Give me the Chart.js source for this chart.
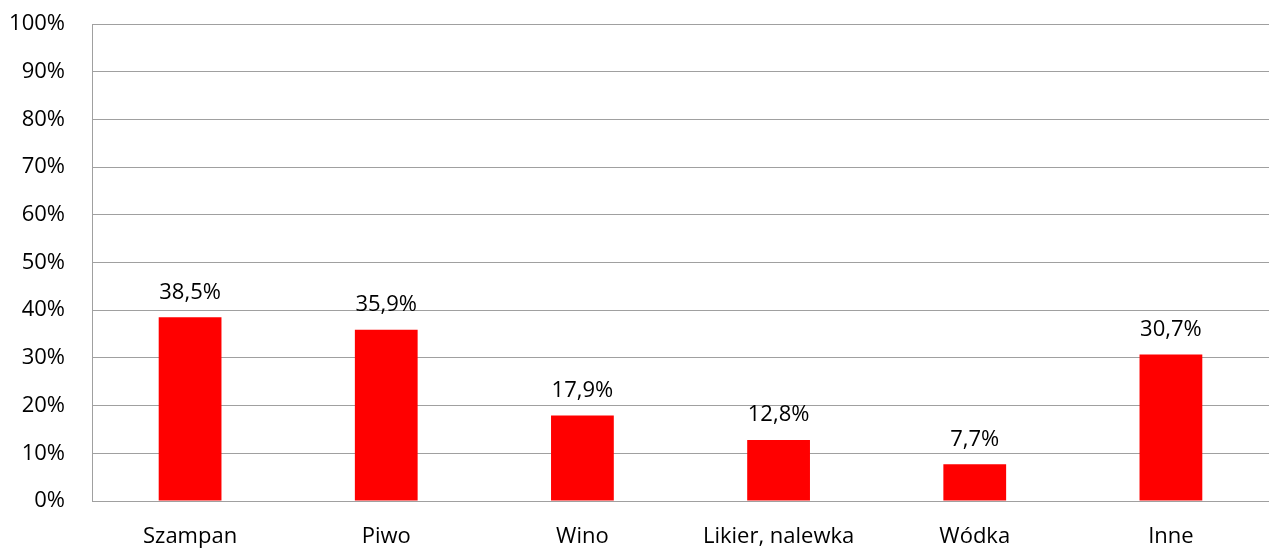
<!DOCTYPE html>
<html>
<head>
<meta charset="utf-8">
<script src="https://cdn.jsdelivr.net/npm/chart.js@4"></script>
<style>
  html, body { margin: 0; padding: 0; background: #fff; }
  #wrap { width: 1269px; height: 549px; position: relative; }
</style>
</head>
<body>
<div id="wrap"><canvas id="myChart"></canvas></div>
<script>
var categories = ['Szampan', 'Piwo', 'Wino', 'Likier, nalewka', 'Wódka', 'Inne'];
var shares = [38.5, 35.9, 17.9, 12.8, 7.7, 30.7];
var yTicks = [0, 10, 20, 30, 40, 50, 60, 70, 80, 90, 100];

var fontFamily = '"Open Sans", sans-serif';

function pct(v) {
  return v.toFixed(1).replace('.', ',') + '%';
}

// draws the value above each bar
var valueLabels = {
  id: 'valueLabels',
  afterDatasetsDraw: function(chart) {
    var ctx = chart.ctx;
    var meta = chart.getDatasetMeta(0);
    ctx.save();
    ctx.font = '22px ' + fontFamily;
    ctx.fillStyle = '#000';
    ctx.textAlign = 'center';
    ctx.textBaseline = 'middle';
    meta.data.forEach(function(bar, i) {
      ctx.fillText(pct(shares[i]), bar.x, bar.y - 25);
    });
    ctx.restore();
  }
};

function chart1() {
  var ctx = document.getElementById('myChart');

  new Chart(ctx, {
    type: 'bar',
    data: {
      labels: categories,
      datasets: [{
        data: shares,
        backgroundColor: '#ff0000',
        barPercentage: 0.32,
        categoryPercentage: 1.0
      }]
    },
    options: {
      animation: false,
      responsive: true,
      maintainAspectRatio: false,
      layout: { padding: { top: 24, right: 0, left: 0, bottom: 0 } },
      plugins: {
        legend: { display: false },
        tooltip: { enabled: false }
      },
      scales: {
        x: {
          grid: { display: false, drawTicks: false },
          border: { color: '#a0a0a0', width: 1 },
          ticks: {
            color: '#000',
            font: { family: fontFamily, size: 22 },
            padding: 23,
            maxRotation: 0
          },
          afterFit: function(scale) { scale.height = 48; }
        },
        y: {
          min: 0,
          max: 100,
          afterBuildTicks: function(scale) {
            scale.ticks = yTicks.map(function(v) { return { value: v }; });
          },
          grid: { color: '#a0a0a0', drawTicks: false },
          border: { color: '#a0a0a0', width: 1 },
          ticks: {
            color: '#000',
            font: { family: fontFamily, size: 22 },
            padding: 27,
            callback: function(v) { return v + '%'; }
          },
          afterFit: function(scale) {
            scale.width = 92;
            scale.paddingTop = 0;
            scale.paddingBottom = 0;
          }
        }
      }
    },
    plugins: [valueLabels]
  });
}

window.onload = function() {
  chart1();
};
</script>
</body>
</html>
